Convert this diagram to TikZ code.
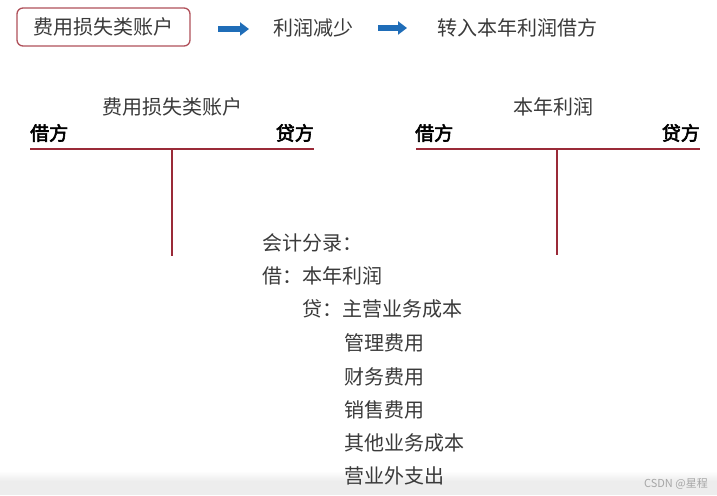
\documentclass[tikz,border=0pt]{standalone}
\usepackage{fontspec}
\newfontfamily\cjk{Noto Sans CJK SC}
\newfontfamily\cjkbold[FakeBold=3]{Noto Sans CJK SC}
\usetikzlibrary{arrows.meta}
\definecolor{txt}{HTML}{3A3A3A}
\definecolor{boxred}{HTML}{B0505A}
\definecolor{tred}{HTML}{9A2A38}
\definecolor{arrblue}{HTML}{1F6DB8}
\definecolor{band}{HTML}{EDEDED}
\begin{document}
\begin{tikzpicture}[x=1pt,y=1pt,
  lbl/.style={font=\cjk\fontsize{20}{22}\selectfont, text=txt, inner sep=0pt},
  side/.style={font=\cjkbold\fontsize{19}{21}\selectfont, text=black, inner sep=0pt},
  entry/.style={font=\cjk\fontsize{20}{22}\selectfont, text=txt, inner sep=0pt, anchor=west},
  tline/.style={draw=tred, line width=1.6pt},
  flow/.style={draw=arrblue, line width=5.5pt, -{Triangle[length=9pt,width=13pt]}}]
\useasboundingbox (0,0) rectangle (717,495);
\fill[white] (0,0) rectangle (717,495);
\shade[top color=white, bottom color=band] (0,24) rectangle (717,14);
\fill[band] (0,0) rectangle (717,14);
% top flow
\node[lbl, draw=boxred, line width=1.3pt, rounded corners=6pt, minimum width=173pt, minimum height=38pt] (acc) at (103.5,468) {费用损失类账户};
\node[lbl] (dec) at (313,467) {利润减少};
\node[lbl] (tra) at (517,467) {转入本年利润借方};
\coordinate (a1s) at (218,466);
\coordinate (a1e) at (249,466);
\coordinate (a2s) at (378,467);
\coordinate (a2e) at (407,467);
\draw[flow] (a1s) -- (a1e);
\draw[flow] (a2s) -- (a2e);
% left T account
\node[lbl] (lt) at (172,388) {费用损失类账户};
\node[side, anchor=west] (ld) at (30,362) {借方};
\node[side, anchor=east] (lc) at (314,362) {贷方};
\coordinate (lh1) at (30,346);
\coordinate (lh2) at (314,346);
\coordinate (lv1) at (172,346);
\coordinate (lv2) at (172,239);
\draw[tline] (lh1) -- (lh2);
\draw[tline] (lv1) -- (lv2);
% right T account
\node[lbl] (rt) at (553,388) {本年利润};
\node[side, anchor=west] (rd) at (415,362) {借方};
\node[side, anchor=east] (rc) at (700,362) {贷方};
\coordinate (rh1) at (416,346);
\coordinate (rh2) at (700,346);
\coordinate (rv1) at (557,346);
\coordinate (rv2) at (557,240);
\draw[tline] (rh1) -- (rh2);
\draw[tline] (rv1) -- (rv2);
% journal entry
\node[entry] (j0) at (262,252) {会计分录：};
\node[entry] (j1) at (262,219) {借：本年利润};
\node[entry] (j2) at (302,186) {贷：主营业务成本};
\node[entry] (j3) at (344,152) {管理费用};
\node[entry] (j4) at (344,118) {财务费用};
\node[entry] (j5) at (344,85) {销售费用};
\node[entry] (j6) at (344,52) {其他业务成本};
\node[entry] (j7) at (344,19) {营业外支出};
% watermark
\node[font=\cjk\fontsize{11}{12}\selectfont, text=gray!70, inner sep=0pt, anchor=east] (wm) at (708,11) {CSDN @星程};
\end{tikzpicture}
\end{document}
